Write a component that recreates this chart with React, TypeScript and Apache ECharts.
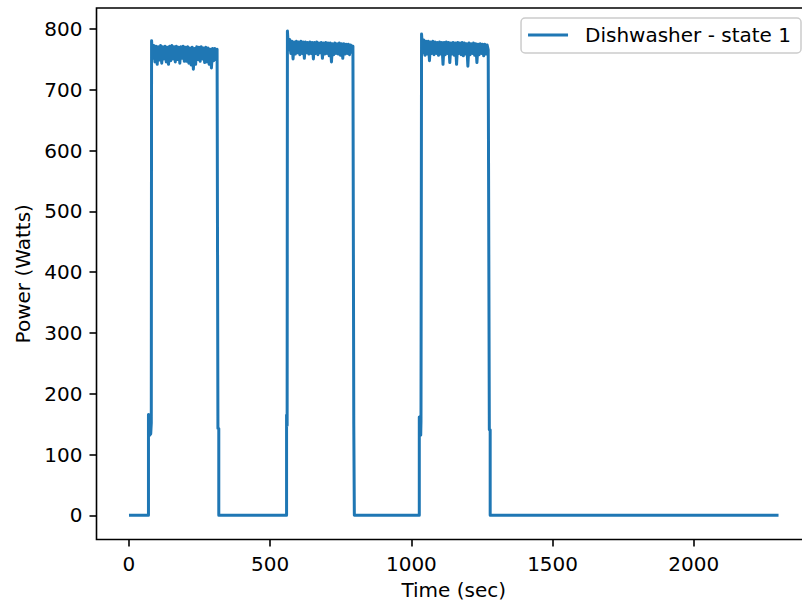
import React, { useEffect, useRef } from "react";
import * as echarts from "echarts";

// ---- data ----
const seriesName = "Dishwasher - state 1";
const xTickValues = [0, 500, 1000, 1500, 2000];
const yTickValues = [0, 100, 200, 300, 400, 500, 600, 700, 800];

// plateau samples: one value every `sampleStep` seconds from each cycle start
const sampleStep = 4;
const cycleStarts = [80, 561, 1036];

const cycle1Power = [
  781, 752, 773, 746, 772, 742, 771, 749, 773, 744,
  771, 751, 772, 746, 770, 742, 772, 748, 773, 751,
  771, 746, 772, 750, 770, 744, 771, 752, 772, 747,
  770, 747, 771, 744, 769, 741, 770, 734, 768, 742,
  771, 750, 770, 747, 771, 751, 769, 745, 770, 746,
  769, 742, 767, 736, 768, 748, 768, 750, 767,
];

const cycle2Power = [
  797, 766, 783, 760, 780, 751, 779, 759, 780, 761,
  779, 758, 780, 760, 779, 752, 779, 761, 778, 759,
  779, 760, 778, 751, 778, 760, 779, 758, 777, 761,
  778, 752, 777, 759, 778, 760, 777, 756, 777, 746,
  776, 758, 777, 760, 776, 759, 777, 757, 776, 752,
  776, 759, 775, 760, 775, 758, 774, 762, 772,
];

const cycle3Power = [
  792, 761, 782, 757, 780, 759, 780, 748, 779, 760,
  780, 758, 779, 760, 778, 757, 779, 759, 778, 742,
  778, 758, 779, 760, 778, 745, 777, 759, 778, 757,
  777, 742, 778, 760, 777, 758, 778, 756, 777, 759,
  776, 739, 777, 758, 776, 760, 777, 757, 776, 745,
  775, 758, 776, 760, 775, 756, 775, 759, 774, 766,
];

// transitions between plateaus: [time (sec), power (W)]
const startToCycle1: [number, number][] = [
  [0, 0], [69, 0], [69, 166], [71, 131], [72, 163], [74, 132], [75, 160], [77, 134], [79, 152],
];
const cycle1ToCycle2: [number, number][] = [
  [315, 143], [318, 143], [318, 0], [558, 0], [558, 165], [560, 148],
];
const cycle2ToCycle3: [number, number][] = [
  [796, 150], [798, 150], [798, 0], [1028, 0], [1028, 162], [1030, 131], [1031, 160], [1033, 132], [1034, 155],
];
const cycle3ToEnd: [number, number][] = [
  [1276, 141], [1279, 141], [1279, 0], [2300, 0],
];

function plateau(start: number, values: number[]): [number, number][] {
  return values.map((v, i) => [start + i * sampleStep, v]);
}

const seriesData: [number, number][] = [
  ...startToCycle1,
  ...plateau(cycleStarts[0], cycle1Power),
  ...cycle1ToCycle2,
  ...plateau(cycleStarts[1], cycle2Power),
  ...cycle2ToCycle3,
  ...plateau(cycleStarts[2], cycle3Power),
  ...cycle3ToEnd,
];

const FONT = "DejaVu Sans";

export default function App() {
  const ref = useRef<HTMLDivElement>(null);

  useEffect(() => {
    document.body.style.margin = "0";
    document.body.style.overflow = "hidden";
    const chart = echarts.init(ref.current!, null, { renderer: "svg" });
    const xMax = 2300;
    const yMax = 795;
    const axisCommon = (ticks: number[]) => ({
      axisLine: { show: false, onZero: false },
      splitLine: { show: false },
      axisTick: {
        show: true,
        inside: false,
        length: 7,
        customValues: ticks,
        lineStyle: { color: "#000", width: 1.6 },
      },
      axisLabel: {
        show: true,
        margin: 14,
        fontSize: 20,
        fontFamily: FONT,
        color: "#000",
        customValues: ticks,
        formatter: (v: number) => String(v),
      },
      nameTextStyle: { fontSize: 20, fontFamily: FONT, color: "#000" },
    });
    chart.setOption({
      animation: false,
      backgroundColor: "#ffffff",
      textStyle: { fontFamily: FONT, color: "#000" },
      grid: {
        left: 96.5,
        top: 8,
        width: 714.5,
        height: 531.5,
        show: true,
        borderColor: "#000",
        borderWidth: 1.6,
        backgroundColor: "transparent",
        containLabel: false,
      },
      xAxis: {
        type: "value",
        min: -0.05 * xMax,
        max: 1.05 * xMax,
        name: "Time (sec)",
        nameLocation: "middle",
        nameGap: 40,
        ...axisCommon(xTickValues),
      },
      yAxis: {
        type: "value",
        min: -0.05 * yMax,
        max: 1.05 * yMax,
        name: "Power (Watts)",
        nameLocation: "middle",
        nameGap: 60,
        ...axisCommon(yTickValues),
      },
      legend: {
        data: [seriesName],
        right: 19,
        top: 18,
        icon: "rect",
        itemWidth: 40,
        itemHeight: 3,
        padding: [7, 10, 8, 7],
        borderColor: "#cccccc",
        borderWidth: 1.5,
        borderRadius: 4,
        backgroundColor: "rgba(255,255,255,0.8)",
        textStyle: {
          fontSize: 20,
          fontFamily: FONT,
          color: "#000",
          padding: [0, 0, 0, 12],
        },
      },
      series: [
        {
          name: seriesName,
          type: "line",
          data: seriesData,
          symbol: "none",
          showSymbol: false,
          color: "#1f77b4",
          lineStyle: { color: "#1f77b4", width: 3, join: "round" },
          clip: true,
        },
      ],
    });
    return () => chart.dispose();
  }, []);

  return (
    <div
      ref={ref}
      style={{ position: "fixed", left: 0, top: 0, width: 820, height: 607 }}
    />
  );
}
